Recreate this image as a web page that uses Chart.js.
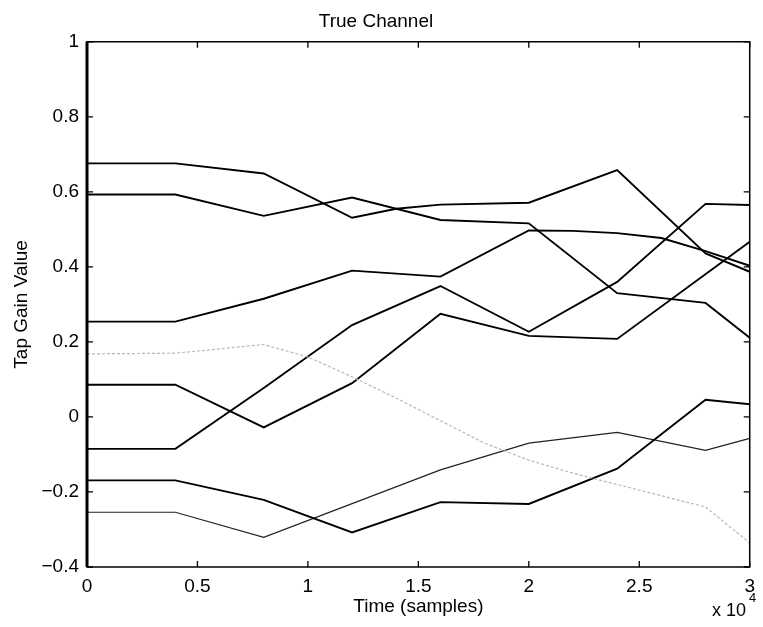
<!DOCTYPE html>
<html>
<head>
<meta charset="utf-8">
<title>True Channel</title>
<script src="https://cdn.jsdelivr.net/npm/chart.js@4.4.1/dist/chart.umd.min.js"></script>
<style>
  html, body { margin: 0; padding: 0; background: #fff; }
  canvas { display: block; }
</style>
</head>
<body>
<canvas id="chart" width="763" height="627"></canvas>
<script>
// Tap gain trajectories: [time in samples, gain]
const tap1 = [[0,0.676],[4000,0.676],[8000,0.649],[12000,0.531],[14000,0.555],[16000,0.566],[20000,0.571],[24000,0.658],[28000,0.436],[30000,0.387]];
const tap2 = [[0,0.593],[4000,0.593],[8000,0.536],[12000,0.585],[16000,0.525],[20000,0.516],[24000,0.330],[28000,0.304],[30000,0.211]];
const tap3 = [[0,0.254],[4000,0.254],[8000,0.315],[12000,0.390],[16000,0.374],[20000,0.497],[22000,0.496],[24000,0.490],[26000,0.477],[28000,0.442],[30000,0.403]];
const tap4 = [[0,0.168],[4000,0.170],[8000,0.193],[10000,0.160],[12000,0.107],[14000,0.050],[16000,-0.010],[18000,-0.070],[20000,-0.115],[22000,-0.150],[24000,-0.180],[28000,-0.240],[30000,-0.336]];
const tap5 = [[0,0.086],[4000,0.086],[8000,-0.028],[12000,0.090],[16000,0.275],[20000,0.216],[24000,0.208],[30000,0.467]];
const tap6 = [[0,-0.085],[4000,-0.085],[8000,0.077],[12000,0.245],[16000,0.349],[20000,0.227],[24000,0.360],[28000,0.568],[30000,0.565]];
const tap7 = [[0,-0.169],[4000,-0.169],[8000,-0.221],[12000,-0.308],[16000,-0.227],[20000,-0.232],[24000,-0.138],[28000,0.046],[30000,0.034]];
const tap8 = [[0,-0.254],[4000,-0.254],[8000,-0.321],[12000,-0.231],[16000,-0.141],[20000,-0.070],[24000,-0.041],[28000,-0.089],[30000,-0.057]];

const xTicks = [0, 5000, 10000, 15000, 20000, 25000, 30000];
const yTicks = [-0.4, -0.2, 0, 0.2, 0.4, 0.6, 0.8, 1];

const FONT = "'Liberation Sans', Arial, Helvetica, sans-serif";

const seriesList = [
  { data: tap1, color: '#000', width: 1.9 },
  { data: tap2, color: '#000', width: 1.9 },
  { data: tap3, color: '#000', width: 1.9 },
  { data: tap4, color: '#b8b8b8', width: 1.2, dash: [3, 2] },
  { data: tap5, color: '#000', width: 1.9 },
  { data: tap6, color: '#000', width: 1.9 },
  { data: tap7, color: '#000', width: 1.9 },
  { data: tap8, color: '#222', width: 1.2 }
];

const datasets = seriesList.map((s, i) => ({
  label: 'tap ' + (i + 1),
  data: s.data.map(p => ({ x: p[0], y: p[1] })),
  borderColor: s.color,
  borderWidth: s.width,
  borderDash: s.dash || [],
  pointRadius: 0,
  tension: 0,
  fill: false
}));

// Box frame, inward ticks on all four sides and the x10^4 exponent label
const framePlugin = {
  id: 'frame',
  afterDraw(chart) {
    const { ctx, chartArea: a, scales: { x, y } } = chart;
    const tick = 6;
    ctx.save();
    ctx.strokeStyle = '#000';
    ctx.lineWidth = 1.5;
    ctx.beginPath();
    ctx.rect(a.left, a.top, a.right - a.left, a.bottom - a.top);
    ctx.stroke();
    ctx.lineWidth = 3;
    ctx.beginPath();
    ctx.moveTo(a.left, a.top); ctx.lineTo(a.left, a.bottom);
    ctx.stroke();
    ctx.lineWidth = 1.3;
    ctx.beginPath();
    xTicks.forEach(v => {
      const px = x.getPixelForValue(v);
      ctx.moveTo(px, a.bottom); ctx.lineTo(px, a.bottom - tick);
      ctx.moveTo(px, a.top); ctx.lineTo(px, a.top + tick);
    });
    yTicks.forEach(v => {
      const py = y.getPixelForValue(v);
      ctx.moveTo(a.left, py); ctx.lineTo(a.left + tick, py);
      ctx.moveTo(a.right, py); ctx.lineTo(a.right - tick, py);
    });
    ctx.stroke();

    ctx.fillStyle = '#000';
    ctx.textBaseline = 'alphabetic';
    ctx.textAlign = 'left';
    ctx.font = '18px ' + FONT;
    ctx.fillText('x 10', 712, 616);
    ctx.font = '13px ' + FONT;
    ctx.fillText('4', 749, 602);
    ctx.restore();
  }
};

new Chart(document.getElementById('chart'), {
  type: 'line',
  data: { datasets },
  plugins: [framePlugin],
  options: {
    responsive: false,
    animation: false,
    events: [],
    layout: { padding: { left: 0, right: 11, top: 0, bottom: 0 } },
    plugins: {
      legend: { display: false },
      tooltip: { enabled: false },
      title: {
        display: true,
        text: 'True Channel',
        color: '#000',
        font: { family: FONT, size: 19, weight: 'normal' },
        padding: { top: 10, bottom: 9 }
      }
    },
    scales: {
      x: {
        type: 'linear',
        min: 0,
        max: 30000,
        afterBuildTicks(scale) { scale.ticks = xTicks.map(v => ({ value: v })); },
        afterFit(scale) { scale.height = 60; },
        ticks: {
          color: '#000',
          font: { family: FONT, size: 19 },
          padding: 8,
          maxRotation: 0,
          autoSkip: false,
          callback: v => String(Math.round(v / 1000) / 10)
        },
        grid: { display: false, drawTicks: false },
        border: { display: false },
        title: {
          display: true,
          text: 'Time (samples)',
          color: '#000',
          font: { family: FONT, size: 19 },
          padding: { top: 0, bottom: 9 }
        }
      },
      y: {
        type: 'linear',
        min: -0.4,
        max: 1,
        afterBuildTicks(scale) { scale.ticks = yTicks.map(v => ({ value: v })); },
        afterFit(scale) { scale.width = 87; },
        ticks: {
          color: '#000',
          font: { family: FONT, size: 19 },
          padding: 8,
          autoSkip: false,
          callback: v => {
            const r = Math.round(v * 10) / 10;
            return r < 0 ? '\u2212' + String(-r) : String(r);
          }
        },
        grid: { display: false, drawTicks: false },
        border: { display: false },
        title: {
          display: true,
          text: 'Tap Gain Value',
          color: '#000',
          font: { family: FONT, size: 19 },
          padding: { top: 10, bottom: 0 }
        }
      }
    }
  }
});
</script>
</body>
</html>
